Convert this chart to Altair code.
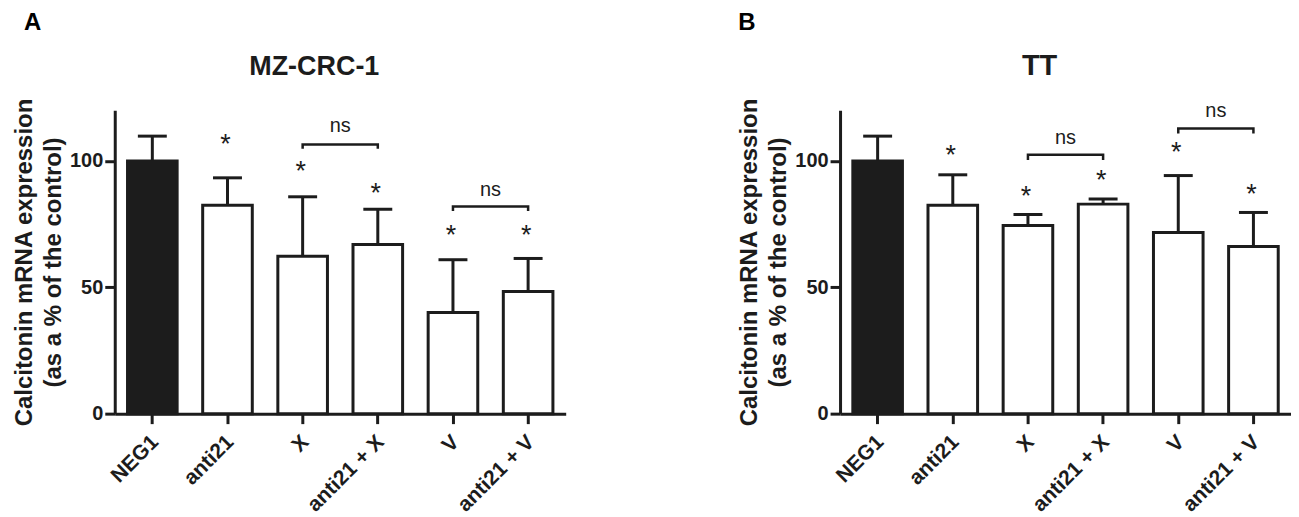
import altair as alt
import pandas as pd

# ---------------- data ----------------
categories = ["NEG1", "anti21", "X", "anti21 + X", "V", "anti21 + V"]
fills = ["#1c1c1c", "white", "white", "white", "white", "white"]

# Panel A: MZ-CRC-1
a_mean = [100.0, 82.5, 62.3, 66.9, 40.0, 48.3]
a_err = [109.8, 93.3, 85.8, 80.9, 60.9, 61.4]
a_star = [None, 109.0, 98.2, 89.6, 73.2, 73.0]
a_ns_left = ["X", "V"]
a_ns_right = ["anti21 + X", "anti21 + V"]
a_ns_bar = [106.5, 82.0]
a_ns_foot = [104.8, 80.2]
a_ns_text = [111.4, 86.2]

# Panel B: TT
b_mean = [100.0, 82.5, 74.4, 82.9, 71.7, 66.1]
b_err = [109.8, 94.5, 78.8, 84.9, 94.2, 79.6]
b_star = [None, 104.5, 88.3, 94.9, 105.7, 89.2]
b_ns_left = ["X", "V"]
b_ns_right = ["anti21 + X", "anti21 + V"]
b_ns_bar = [102.4, 112.8]
b_ns_foot = [100.4, 110.8]
b_ns_text = [106.6, 117.5]

y_ticks = [0, 50, 100]
y_title = ["Calcitonin mRNA expression", "(as a % of the control)"]

# ---------------- styling ----------------
INK = "#1c1c1c"
FONT = "Liberation Sans"
W = 452
H = 304
STEP = W / 6.0


def panel(mean, err, star, ns_left, ns_right, ns_bar, ns_foot, ns_text,
          title, title_size, letter, letter_x):
    xaxis = alt.Axis(
        title=None, labelAngle=-45, labelAlign="right", labelBaseline="middle",
        labelFont=FONT, labelFontSize=21, labelFontWeight="bold", labelColor=INK,
        labelPadding=15, labelOffset=3, tickSize=10, tickWidth=3, tickColor=INK,
        domainWidth=3, domainColor=INK, grid=False,
    )
    yaxis = alt.Axis(
        values=y_ticks, title=y_title, titleFont=FONT, titleFontSize=24,
        titleFontWeight="bold", titleLineHeight=29, titlePadding=4, titleColor=INK,
        labelFont=FONT, labelFontSize=20, labelFontWeight="bold", labelColor=INK,
        labelPadding=2, tickSize=10, tickWidth=3, tickColor=INK,
        domainWidth=3, domainColor=INK, grid=False,
    )
    x = alt.X("cat:N", sort=categories,
              scale=alt.Scale(paddingInner=0.34, paddingOuter=0.17), axis=xaxis)
    y = alt.Y("v:Q", scale=alt.Scale(domain=[0, 120], nice=False), axis=yaxis)

    bar_df = pd.DataFrame({"cat": categories, "v": mean, "v2": err, "fill": fills})
    cap_df = pd.DataFrame({"cat": categories, "v": err})
    star_df = pd.DataFrame({"cat": categories, "v": star}).dropna()
    ns_df = pd.DataFrame({"cat": ns_left, "v": ns_text})
    rows = []
    for i in range(len(ns_left)):
        rows += [
            {"b": i, "o": 0, "cat": ns_left[i], "v": ns_foot[i]},
            {"b": i, "o": 1, "cat": ns_left[i], "v": ns_bar[i]},
            {"b": i, "o": 2, "cat": ns_right[i], "v": ns_bar[i]},
            {"b": i, "o": 3, "cat": ns_right[i], "v": ns_foot[i]},
        ]
    br_df = pd.DataFrame(rows)

    bars = alt.Chart(bar_df).mark_bar(stroke=INK, strokeWidth=3, strokeJoin="miter").encode(
        x=x, y=y, fill=alt.Fill("fill:N", scale=None))
    whisk = alt.Chart(bar_df).mark_rule(color=INK, strokeWidth=3).encode(
        x=x, y=y, y2="v2:Q")
    caps = alt.Chart(cap_df).mark_tick(color=INK, thickness=3, size=29, opacity=1).encode(
        x=x, y=y)
    stars = alt.Chart(star_df).mark_text(
        text="*", font=FONT, fontSize=27, color=INK, dy=15, dx=-2, baseline="alphabetic"
    ).encode(x=x, y=y)
    ns = alt.Chart(ns_df).mark_text(
        text="ns", font=FONT, fontSize=20, color=INK, dx=STEP / 2, baseline="alphabetic"
    ).encode(x=x, y=y)
    brackets = alt.Chart(br_df).mark_line(
        color=INK, strokeWidth=2.5, strokeJoin="miter", strokeCap="butt"
    ).encode(x=x, y=y, detail="b:N", order="o:Q")
    ttl = alt.Chart(pd.DataFrame({"t": [title]})).mark_text(
        font=FONT, fontSize=title_size, fontWeight="bold", color=INK,
        align="center", baseline="alphabetic"
    ).encode(x=alt.value(200), y=alt.value(-35), text="t:N")
    let = alt.Chart(pd.DataFrame({"t": [letter]})).mark_text(
        font=FONT, fontSize=24, fontWeight="bold", color="black",
        align="left", baseline="alphabetic"
    ).encode(x=alt.value(letter_x), y=alt.value(-81), text="t:N")

    return alt.layer(bars, whisk, caps, brackets, stars, ns, ttl, let).properties(
        width=W, height=H)


pa = panel(a_mean, a_err, a_star, a_ns_left, a_ns_right, a_ns_bar, a_ns_foot, a_ns_text,
           "MZ-CRC-1", 27, "A", -91)
pb = panel(b_mean, b_err, b_star, b_ns_left, b_ns_right, b_ns_bar, b_ns_foot, b_ns_text,
           "TT", 29, "B", -102)

chart = alt.hconcat(pa, pb, spacing=172).properties(
    padding={"left": 4, "top": 2, "right": 0, "bottom": 0},
    background="white",
).configure_view(stroke=None)

chart.save("out.html", embed_options={"renderer": "svg", "actions": False})
